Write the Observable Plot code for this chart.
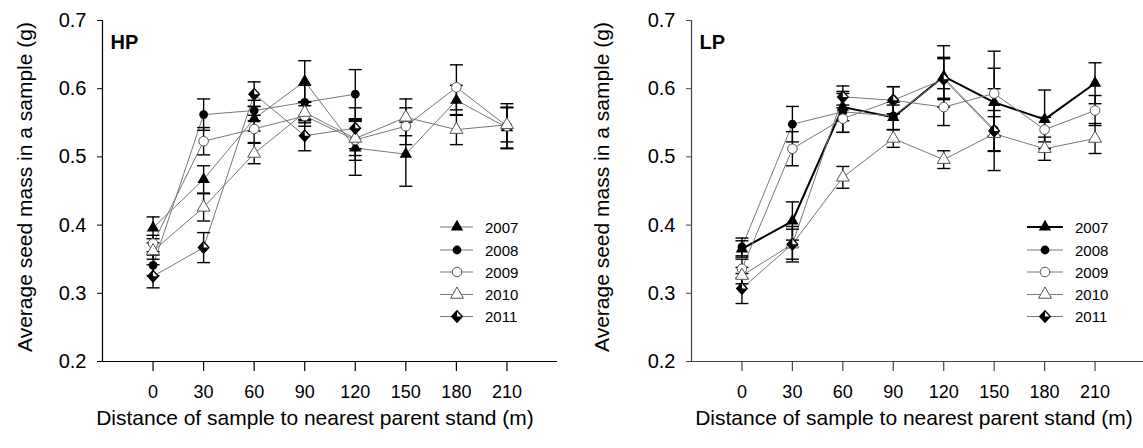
<!DOCTYPE html>
<html><head><meta charset="utf-8">
<script src="https://cdn.jsdelivr.net/npm/d3@7"></script>
<script src="https://cdn.jsdelivr.net/npm/@observablehq/plot@0.6"></script>
<style>
html,body{margin:0;padding:0;background:#fff;overflow:hidden;}
#wrap{position:relative;width:1143px;height:448px;overflow:hidden;font-family:"Liberation Sans",Arial,sans-serif;color:#000;}
.panel{position:absolute;top:0;}
.xt{position:absolute;font-size:21px;line-height:21px;white-space:nowrap;transform:translateX(-50%);}
.yt{position:absolute;font-size:21px;line-height:21px;white-space:nowrap;transform:translate(-50%,-50%) rotate(-90deg);}
#legend{position:absolute;left:0;top:0;pointer-events:none;}
</style></head><body><div id="wrap"></div>
<script>
// ---------- data ----------
const distances = [0, 30, 60, 90, 120, 150, 180, 210];
const years = ["2007", "2008", "2009", "2010", "2011"];
const yTicks = [0.2, 0.3, 0.4, 0.5, 0.6, 0.7];
const xTitle = "Distance of sample to nearest parent stand (m)";
const yTitle = "Average seed mass in a sample (g)";

// HP panel means (g)
const hp2007 = [0.396, 0.467, 0.556, 0.611, 0.513, 0.504, 0.583, 0.543];
const hp2008 = [0.341, 0.562, 0.568, 0.580, 0.592];
const hp2009 = [0.373, 0.523, 0.541, 0.560, 0.525, 0.545, 0.602, 0.545];
const hp2010 = [0.362, 0.426, 0.505, 0.565, 0.527, 0.558, 0.540, 0.547];
const hp2011 = [0.325, 0.367, 0.592, 0.531, 0.542];
// HP standard errors
const hpErr2007 = [0.016, 0.020, 0.018, 0.030, 0.040, 0.047, 0.022, 0.030];
const hpErr2008 = [0.015, 0.023, 0.015, 0.025, 0.036];
const hpErr2009 = [0.012, 0.020, 0.020, 0.015, 0.030, 0.027, 0.033, 0.033];
const hpErr2010 = [0.012, 0.020, 0.015, 0.015, 0.025, 0.027, 0.022, 0.025];
const hpErr2011 = [0.017, 0.022, 0.018, 0.022, 0.030];

// LP panel means (g)
const lp2007 = [0.365, 0.406, 0.573, 0.558, 0.618, 0.580, 0.555, 0.608];
const lp2008 = [0.368, 0.548, 0.566, 0.560, 0.616, 0.540];
const lp2009 = [0.336, 0.512, 0.556, 0.583, 0.573, 0.593, 0.540, 0.568];
const lp2010 = [0.326, 0.372, 0.470, 0.527, 0.496, 0.534, 0.512, 0.527];
const lp2011 = [0.307, 0.372, 0.588, 0.583, 0.614, 0.538];
// LP standard errors
const lpErr2007 = [0.012, 0.028, 0.020, 0.018, 0.045, 0.050, 0.043, 0.030];
const lpErr2008 = [0.013, 0.026, 0.030, 0.020, 0.030, 0.060];
const lpErr2009 = [0.014, 0.025, 0.020, 0.020, 0.027, 0.062, 0.018, 0.022];
const lpErr2010 = [0.012, 0.022, 0.016, 0.013, 0.013, 0.025, 0.017, 0.022];
const lpErr2011 = [0.022, 0.026, 0.016, 0.020, 0.030, 0.030];

// ---------- symbols ----------
const capSym = {draw(c) { c.moveTo(-6.5, 0); c.lineTo(6.5, 0); }};
const diamondSym = {draw(c) { c.moveTo(0, -5.8); c.lineTo(5.3, 0); c.lineTo(0, 5.8); c.lineTo(-5.3, 0); c.closePath(); }};
const diamondDarkSym = {draw(c) { c.moveTo(0, -5.8); c.lineTo(0, 0); c.lineTo(5.3, 0); c.lineTo(0, 5.8); c.lineTo(-5.3, 0); c.closePath(); }};

const styles = {
  "2007": {symbol: d3.symbolTriangle, r: 4.6, fill: "#000", stroke: "none"},
  "2008": {symbol: d3.symbolCircle, r: 4.4, fill: "#000", stroke: "none"},
  "2009": {symbol: d3.symbolCircle, r: 4.8, fill: "#fff", stroke: "#555"},
  "2010": {symbol: d3.symbolTriangle, r: 4.8, fill: "#fff", stroke: "#555"},
  "2011": {symbol: diamondSym, r: 5, fill: "#fff", stroke: "#000"}
};

function rowsFor(means, errs) {
  const rows = [];
  years.forEach((yr, k) => {
    means[k].forEach((v, i) => rows.push({year: yr, x: distances[i], y: v, err: errs[k][i]}));
  });
  return rows;
}

const xDomain = [-30, 240];
const yDomain = [0.2, 0.7];

function panel({rows, label, width, marginLeft, marginRight, axisColor, thick2007}) {
  const marks = [
    Plot.ruleX([xDomain[0]], {stroke: axisColor, strokeWidth: 1.2}),
    Plot.ruleY([yDomain[0]], {stroke: axisColor, strokeWidth: 1.2}),
    Plot.axisX({ticks: distances, tickSize: 10, tickPadding: 14, fontSize: 18, label: null, stroke: axisColor, strokeWidth: 1.2, fill: "#000"}),
    Plot.axisY({ticks: yTicks, tickSize: 5, tickPadding: 11, fontSize: 20, label: null, tickFormat: d3.format(".1f"), stroke: axisColor, fill: "#000"})
  ];
  years.forEach(yr => {
    const isThick = thick2007 && yr === "2007";
    marks.push(Plot.line(rows.filter(d => d.year === yr), {x: "x", y: "y", stroke: isThick ? "#000" : "#777", strokeWidth: isThick ? 2 : 1}));
  });
  marks.push(Plot.ruleX(rows, {x: "x", y1: d => d.y - d.err, y2: d => d.y + d.err, stroke: "#000", strokeWidth: 1.4}));
  marks.push(Plot.dot(rows, {x: "x", y: d => d.y - d.err, symbol: capSym, fill: "none", stroke: "#000", strokeWidth: 1.4}));
  marks.push(Plot.dot(rows, {x: "x", y: d => d.y + d.err, symbol: capSym, fill: "none", stroke: "#000", strokeWidth: 1.4}));
  years.forEach(yr => {
    const s = styles[yr];
    const sub = rows.filter(d => d.year === yr);
    marks.push(Plot.dot(sub, {x: "x", y: "y", symbol: s.symbol, r: s.r, fill: s.fill, stroke: s.stroke, strokeWidth: yr === "2011" ? 1.3 : 1}));
    if (yr === "2011") marks.push(Plot.dot(sub, {x: "x", y: "y", symbol: diamondDarkSym, fill: "#000", stroke: "none"}));
  });
  marks.push(Plot.text([label], {text: d => d, frameAnchor: "top-left", textAnchor: "start", lineAnchor: "top", dx: 8, dy: 14, fontSize: 20, fontWeight: "bold", fill: "#000"}));
  return Plot.plot({
    width, height: 448,
    marginLeft, marginRight, marginTop: 20, marginBottom: 87,
    x: {domain: xDomain, label: null},
    y: {domain: yDomain, label: null},
    style: {fontFamily: "'Liberation Sans', Arial, sans-serif", color: "#000", background: "transparent", maxWidth: "none", overflow: "visible"},
    marks
  });
}

const wrap = document.getElementById("wrap");

const left = panel({
  rows: rowsFor([hp2007, hp2008, hp2009, hp2010, hp2011], [hpErr2007, hpErr2008, hpErr2009, hpErr2010, hpErr2011]),
  label: "HP", width: 571, marginLeft: 102, marginRight: 14, axisColor: "#000", thick2007: false
});
const ld = document.createElement("div"); ld.className = "panel"; ld.style.left = "0px"; ld.appendChild(left); wrap.appendChild(ld);

const right = panel({
  rows: rowsFor([lp2007, lp2008, lp2009, lp2010, lp2011], [lpErr2007, lpErr2008, lpErr2009, lpErr2010, lpErr2011]),
  label: "LP", width: 574, marginLeft: 120, marginRight: 0, axisColor: "#444", thick2007: true
});
const rd = document.createElement("div"); rd.className = "panel"; rd.style.left = "571px"; rd.appendChild(right); wrap.appendChild(rd);

// axis titles
function addDiv(cls, text, x, y) {
  const d = document.createElement("div"); d.className = cls; d.textContent = text;
  d.style.left = x + "px"; d.style.top = y + "px"; wrap.appendChild(d);
}
addDiv("xt", xTitle, 315, 407);
addDiv("xt", xTitle, 914, 407);
addDiv("yt", yTitle, 24, 187);
addDiv("yt", yTitle, 601, 187);

// legends
const svg = d3.select(wrap).append("svg").attr("id", "legend").attr("width", 1143).attr("height", 448);
const rowY = [227, 250, 272, 294.5, 316.5];
function legend(x0, x1, xm, xtxt, thick2007) {
  years.forEach((yr, i) => {
    const s = styles[yr];
    const y = rowY[i];
    const isThick = thick2007 && yr === "2007";
    svg.append("line").attr("x1", x0).attr("x2", x1).attr("y1", y).attr("y2", y)
      .attr("stroke", isThick ? "#000" : "#777").attr("stroke-width", isThick ? 2 : 1);
    const g = svg.append("g").attr("transform", `translate(${xm},${y})`);
    g.append("path").attr("d", d3.symbol().type(s.symbol).size(Math.PI * s.r * s.r)())
      .attr("fill", s.fill).attr("stroke", s.stroke).attr("stroke-width", yr === "2011" ? 1.3 : 1);
    if (yr === "2011") g.append("path").attr("d", d3.symbol().type(diamondDarkSym)()).attr("fill", "#000");
    svg.append("text").attr("x", xtxt).attr("y", y).attr("dominant-baseline", "central")
      .attr("font-size", 15).attr("font-family", "'Liberation Sans', Arial, sans-serif").text(yr);
  });
}
legend(440, 473, 457, 485, false);
legend(1027, 1063, 1045, 1075, true);
</script></body></html>
